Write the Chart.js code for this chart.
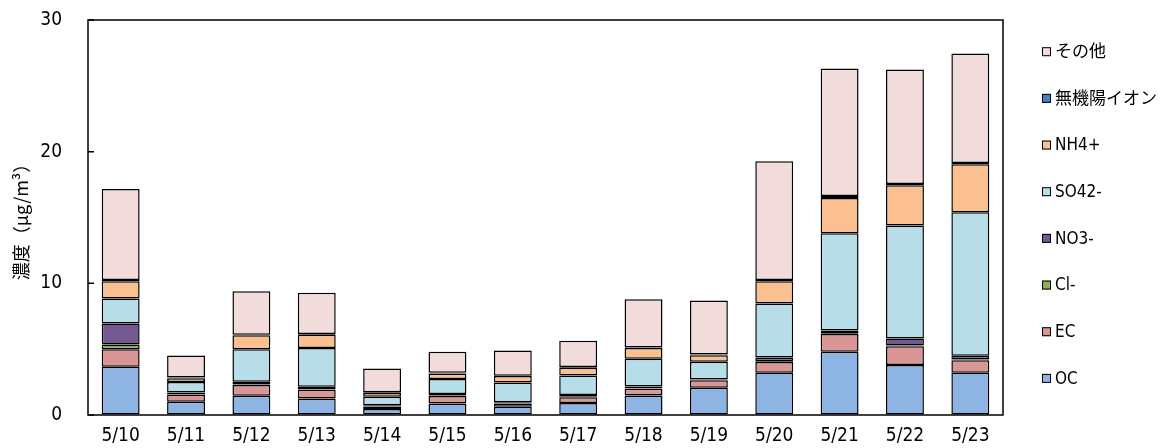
<!DOCTYPE html>
<html lang="ja">
<head>
<meta charset="utf-8">
<title>成分別濃度</title>
<script src="https://cdn.jsdelivr.net/npm/chart.js@4/dist/chart.umd.min.js"></script>
<style>
  html, body { margin: 0; padding: 0; background: #fff; }
  #wrap { width: 1166px; height: 448px; }
</style>
</head>
<body>
<div id="wrap"><canvas id="compChart" width="1166" height="448"></canvas></div>
<script>
// Daily component concentrations (μg/m3)
const dates = ['5/10', '5/11', '5/12', '5/13', '5/14', '5/15', '5/16', '5/17', '5/18', '5/19', '5/20', '5/21', '5/22', '5/23'];
const ocValues    = [3.66, 1.00, 1.47, 1.26, 0.45, 0.88, 0.63, 0.91, 1.49, 2.07, 3.20, 4.80, 3.79, 3.20];
const ecValues    = [1.34, 0.55, 0.80, 0.65, 0.15, 0.56, 0.25, 0.43, 0.50, 0.56, 0.82, 1.36, 1.44, 0.95];
const clValues    = [0.36, 0.05, 0.05, 0.05, 0.05, 0.05, 0.03, 0.05, 0.05, 0.03, 0.07, 0.05, 0.05, 0.07];
const no3Values   = [1.59, 0.10, 0.20, 0.18, 0.10, 0.10, 0.05, 0.13, 0.13, 0.04, 0.28, 0.20, 0.53, 0.28];
const so4Values   = [1.89, 0.80, 2.47, 2.95, 0.63, 1.14, 1.50, 1.48, 2.10, 1.34, 4.09, 7.40, 8.58, 10.90];
const nh4Values   = [1.31, 0.30, 1.06, 1.00, 0.30, 0.43, 0.50, 0.59, 0.81, 0.50, 1.69, 2.68, 3.06, 3.64];
const cationValues = [0.10, 0.05, 0.05, 0.06, 0.05, 0.05, 0.03, 0.05, 0.05, 0.05, 0.10, 0.15, 0.10, 0.10];
const otherValues = [6.92, 1.67, 3.30, 3.13, 1.80, 1.60, 1.90, 2.00, 3.66, 4.10, 9.02, 9.67, 8.69, 8.31];
const yTicks = [0, 10, 20, 30];

const seriesNames  = ['OC', 'EC', 'Cl-', 'NO3-', 'SO42-', 'NH4+', '無機陽イオン', 'その他'];
const seriesData   = [ocValues, ecValues, clValues, no3Values, so4Values, nh4Values, cationValues, otherValues];
const seriesColors = ['#8eb4e3', '#d99694', '#8fb050', '#725a90', '#b7dee8', '#fac090', '#4a7ec4', '#f2dcdb'];

const numFont = "'DejaVu Sans Condensed', 'Liberation Sans Narrow', 'Noto Sans', sans-serif";
const jpFont = "'Noto Sans CJK JP', sans-serif";
const legendFont = "'Liberation Sans Narrow', 'DejaVu Sans Condensed', 'Noto Sans CJK JP', sans-serif";

// box around the plot area plus short inward ticks on the value axis
const framePlugin = {
  id: 'frame',
  afterDatasetsDraw(chart) {
    const { ctx, chartArea: a, scales } = chart;
    ctx.save();
    ctx.strokeStyle = '#000';
    ctx.lineWidth = 1.5;
    ctx.strokeRect(a.left, a.top, a.right - a.left, a.bottom - a.top);
    ctx.beginPath();
    yTicks.forEach(v => {
      const y = scales.y.getPixelForValue(v);
      ctx.moveTo(a.left, y);
      ctx.lineTo(a.left + 6, y);
    });
    ctx.stroke();
    ctx.restore();
  }
};

// legend on the right, top item = last series
const sideLegend = {
  id: 'sideLegend',
  afterDraw(chart) {
    const { ctx } = chart;
    const sets = chart.data.datasets;
    ctx.save();
    ctx.font = '17px ' + legendFont;
    ctx.textBaseline = 'middle';
    ctx.textAlign = 'left';
    for (let i = 0; i < sets.length; i++) {
      const ds = sets[sets.length - 1 - i];
      const cy = 51.7 + i * 46.67;
      ctx.fillStyle = ds.backgroundColor;
      ctx.fillRect(1042, cy - 4.5, 9, 9);
      ctx.strokeStyle = '#000';
      ctx.lineWidth = 1;
      ctx.strokeRect(1042.5, cy - 4, 8, 8);
      ctx.fillStyle = '#000';
      ctx.fillText(ds.label, 1055, cy + 1);
    }
    ctx.restore();
  }
};

new Chart(document.getElementById('compChart'), {
  type: 'bar',
  data: {
    labels: dates,
    datasets: seriesNames.map((name, i) => ({
      label: name,
      data: seriesData[i],
      backgroundColor: seriesColors[i],
      borderColor: '#000',
      borderWidth: 1.5,
      borderSkipped: false,
      barPercentage: 0.58,
      categoryPercentage: 1.0
    }))
  },
  options: {
    responsive: false,
    animation: false,
    layout: { padding: { left: 0, top: 20, right: 163, bottom: 0 } },
    plugins: {
      legend: { display: false },
      tooltip: { enabled: false }
    },
    scales: {
      x: {
        stacked: true,
        grid: { display: false, drawTicks: false },
        border: { display: false },
        ticks: { color: '#000', font: { family: numFont, size: 19 }, padding: 10, maxRotation: 0 },
        afterFit(scale) { scale.height = 33; }
      },
      y: {
        stacked: true,
        min: 0,
        max: 30,
        // invisible tick marks only push the labels away from the axis
        grid: { display: true, drawOnChartArea: false, drawTicks: true, tickLength: 22, color: 'rgba(0,0,0,0)' },
        border: { display: false },
        afterBuildTicks(scale) { scale.ticks = yTicks.map(v => ({ value: v })); },
        ticks: { color: '#000', font: { family: numFont, size: 19 }, padding: 4 },
        title: {
          display: true,
          text: '濃度（μg/m³）',
          color: '#000',
          font: { family: jpFont, size: 18 },
          padding: { top: 10, bottom: 0 }
        },
        afterFit(scale) { scale.width = 88; }
      }
    }
  },
  plugins: [framePlugin, sideLegend]
});
</script>
</body>
</html>
